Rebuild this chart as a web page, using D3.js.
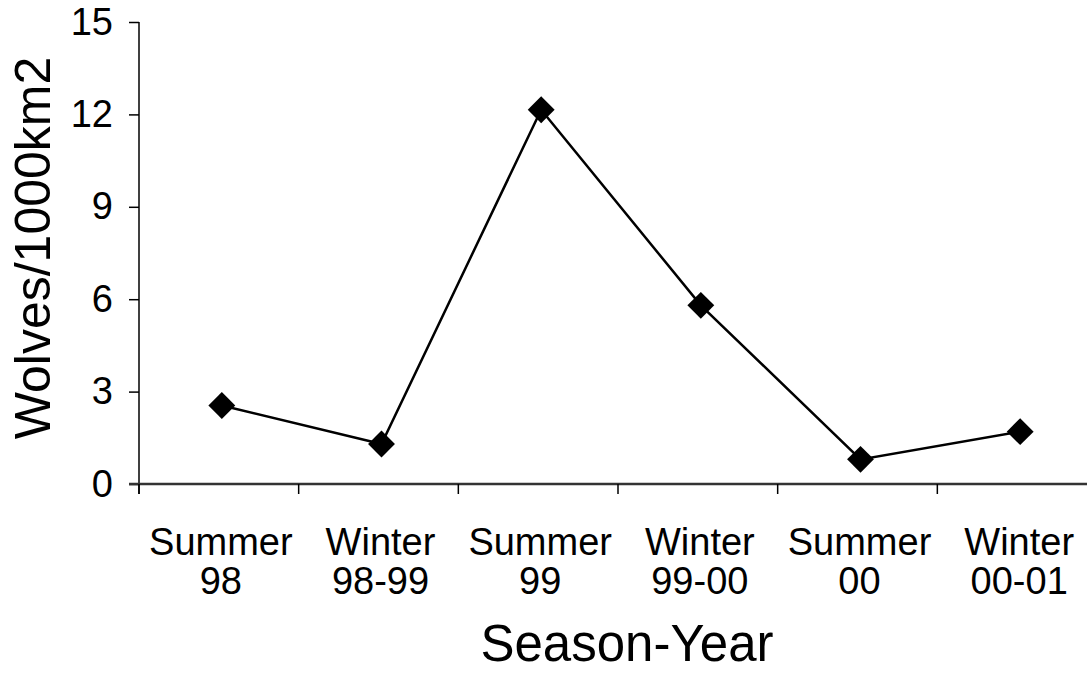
<!DOCTYPE html>
<html><head><meta charset="utf-8">
<script src="https://cdn.jsdelivr.net/npm/d3@7"></script>
<style>body{margin:0;background:#fff;overflow:hidden;} text{font-family:"Liberation Sans",Arial,sans-serif;}</style>
</head><body>
<svg id="c" width="1087" height="673"></svg>
<script>
const categories = [["Summer","98"],["Winter","98-99"],["Summer","99"],["Winter","99-00"],["Summer","00"],["Winter","00-01"]];
const values = [2.55, 1.3, 12.15, 5.8, 0.8, 1.7];
const yTicks = [0,3,6,9,12,15];
const xTitle = "Season-Year";
const yTitle = "Wolves/1000km2";

const svg = d3.select("#c");
const m = {left:139, right:1097, top:22, bottom:484};
const x = d3.scaleBand().domain(d3.range(categories.length)).range([m.left, m.right]);
const y = d3.scaleLinear().domain([0,15]).range([m.bottom, m.top]);

// y axis
const ya = svg.append("g").attr("transform",`translate(${m.left},0)`)
  .call(d3.axisLeft(y).tickValues(yTicks).tickSize(10).tickPadding(16).tickSizeOuter(0));
ya.select(".domain").remove();
ya.append("line").attr("x1",0).attr("x2",0).attr("y1",y(15)).attr("y2",y(0)+10).attr("stroke","#000").attr("stroke-width",1.5);
ya.selectAll(".tick line").attr("stroke","#000").attr("stroke-width",1.5);
ya.selectAll(".tick text").attr("font-size",38).attr("fill","#000").attr("font-family","Liberation Sans, Arial, sans-serif");

// x axis
const xa = svg.append("g").attr("transform",`translate(0,${m.bottom})`);
xa.append("line").attr("x1",m.left-10).attr("x2",m.right+2).attr("stroke","#333").attr("stroke-width",2.5);
const edges = d3.range(categories.length+1).map(i => i<categories.length ? x(i) : x(i-1)+x.bandwidth());
xa.selectAll("line.t").data(edges).join("line").attr("class","t")
  .attr("x1",d=>d).attr("x2",d=>d).attr("y1",0).attr("y2",10).attr("stroke","#000").attr("stroke-width",1.5);
const lab = xa.selectAll("text.l").data(categories).join("text").attr("class","l")
  .attr("text-anchor","middle").attr("font-size",38).attr("fill","#000")
  .attr("transform",(d,i)=>`translate(${x(i)+x.bandwidth()/2+2},0)`);
lab.append("tspan").attr("x",0).attr("y",71).text(d=>d[0]);
lab.append("tspan").attr("x",0).attr("y",110).text(d=>d[1]);

// titles
svg.append("text").attr("x",627).attr("y",661).attr("text-anchor","middle")
  .attr("font-size",51).text(xTitle);
svg.append("text").attr("transform",`translate(50,248) rotate(-90)`)
  .attr("text-anchor","middle").attr("font-size",50).text(yTitle);

// line
const cx = i => x(i)+x.bandwidth()/2+3;
svg.append("path").datum(values).attr("fill","none").attr("stroke","#000").attr("stroke-width",2.5)
  .attr("d", d3.line().x((d,i)=>cx(i)).y(d=>y(d)));
svg.selectAll("path.m").data(values).join("path").attr("class","m")
  .attr("d", d3.symbol().type(d3.symbolSquare).size(361))
  .attr("transform",(d,i)=>`translate(${cx(i)},${y(d)}) rotate(45)`).attr("fill","#000");
</script>
</body></html>
